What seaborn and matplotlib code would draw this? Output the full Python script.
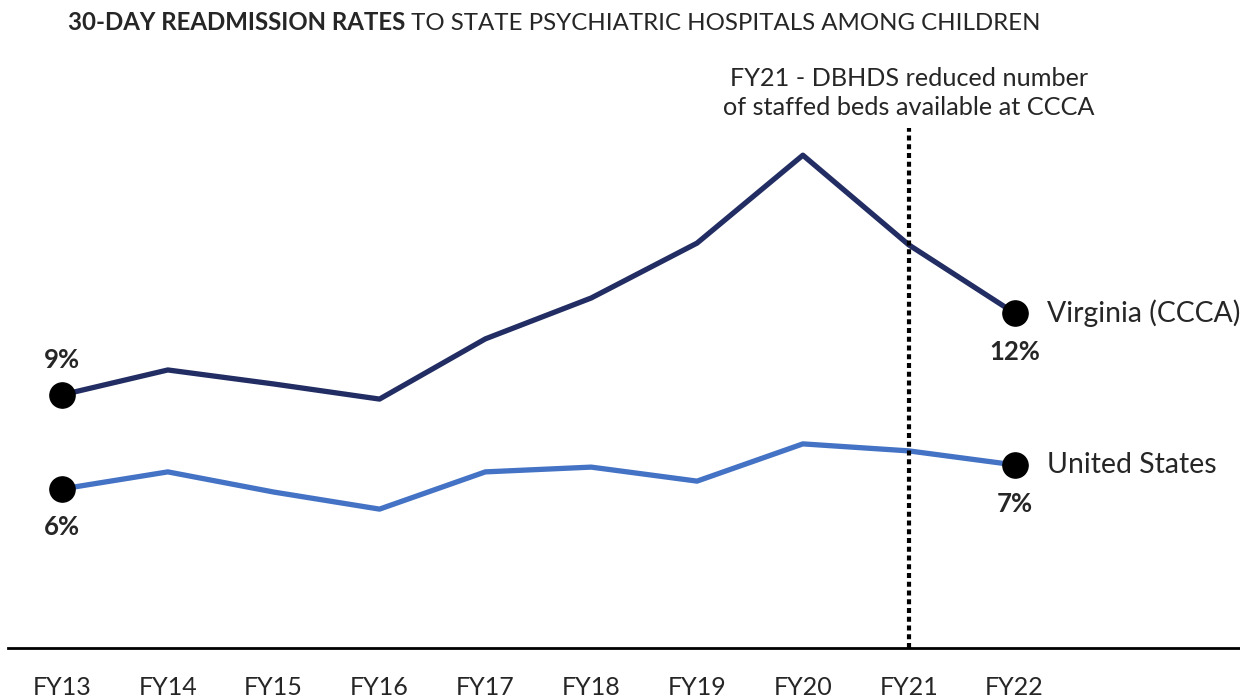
import matplotlib
matplotlib.use("Agg")
import matplotlib.pyplot as plt
import seaborn as sns
import pandas as pd

# Fiscal years and 30-day readmission rates (%)
years = ["FY13", "FY14", "FY15", "FY16", "FY17", "FY18", "FY19", "FY20", "FY21", "FY22"]
virginia = [9.04, 9.93, 9.43, 8.89, 11.04, 12.5, 14.46, 17.6, 14.4, 11.96]
united_states = [5.68, 6.29, 5.57, 4.96, 6.29, 6.46, 5.96, 7.29, 7.04, 6.54]
series_names = ["Virginia (CCCA)", "United States"]
event_year = "FY21"
event_note = "FY21 - DBHDS reduced number\nof staffed beds available at CCCA"
title_bold = "30-DAY READMISSION RATES"
title_rest = " TO STATE PSYCHIATRIC HOSPITALS AMONG CHILDREN"

sns.set_style("white")
plt.rcParams["font.family"] = ["Lato", "DejaVu Sans"]

df = pd.DataFrame({
    "year": years * 2,
    "idx": list(range(len(years))) * 2,
    "rate": virginia + united_states,
    "series": [series_names[0]] * len(years) + [series_names[1]] * len(years),
})

fig = plt.figure(figsize=(12.4, 7), dpi=100)
ax = fig.add_axes([8 / 1240, 1 - 648 / 700, 1 - 8 / 1240, (648 - 88) / 700])

palette = {series_names[0]: "#222d63", series_names[1]: "#4472c4"}
sns.lineplot(data=df, x="idx", y="rate", hue="series", palette=palette,
             linewidth=3.8, legend=False, ax=ax)

ax.set_xlim(-0.51, 11.13)
ax.set_ylim(0, 20)

# End-point markers, value labels and series names
last = len(years) - 1
for name, vals, above in [(series_names[0], virginia, True), (series_names[1], united_states, False)]:
    ax.scatter([0, last], [vals[0], vals[last]], s=330, color="black", zorder=5)
    ax.text(last + 0.31, vals[last], name, fontsize=20.4, va="center", ha="left")
    first_off = 1.25 if above else -1.35
    ax.text(0, vals[0] + first_off, f"{round(vals[0])}%", fontsize=18.5, fontweight="bold",
            ha="center", va="center")
    ax.text(last, vals[last] - 1.4, f"{round(vals[last])}%", fontsize=18.5, fontweight="bold",
            ha="center", va="center")

# FY21 event marker
ev = years.index(event_year)
ax.axvline(ev, ymin=0, ymax=18.57 / 20, color="black", linestyle=(0, (1.2, 0.9)), linewidth=3)
ax.text(ev, 18.9, event_note, fontsize=18.2, ha="center", va="bottom", linespacing=1.3)

ax.set_xticks(range(len(years)))
ax.set_xticklabels(years, fontsize=18)
ax.tick_params(axis="x", length=0, pad=20)
ax.set_yticks([])
ax.set_xlabel("")
ax.set_ylabel("")
for s in ["top", "left", "right"]:
    ax.spines[s].set_visible(False)
ax.spines["bottom"].set_linewidth(2)
ax.spines["bottom"].set_color("black")

# Title with bold lead-in
t1 = fig.text(68 / 1240, 1 - 23 / 700, title_bold, fontsize=17.3, fontweight="bold", va="center", ha="left")
fig.canvas.draw()
bb = t1.get_window_extent()
fig.text(bb.x1 / fig.bbox.width, 1 - 23 / 700, title_rest, fontsize=17.3, va="center", ha="left")

fig.savefig("out.png", dpi=100)
